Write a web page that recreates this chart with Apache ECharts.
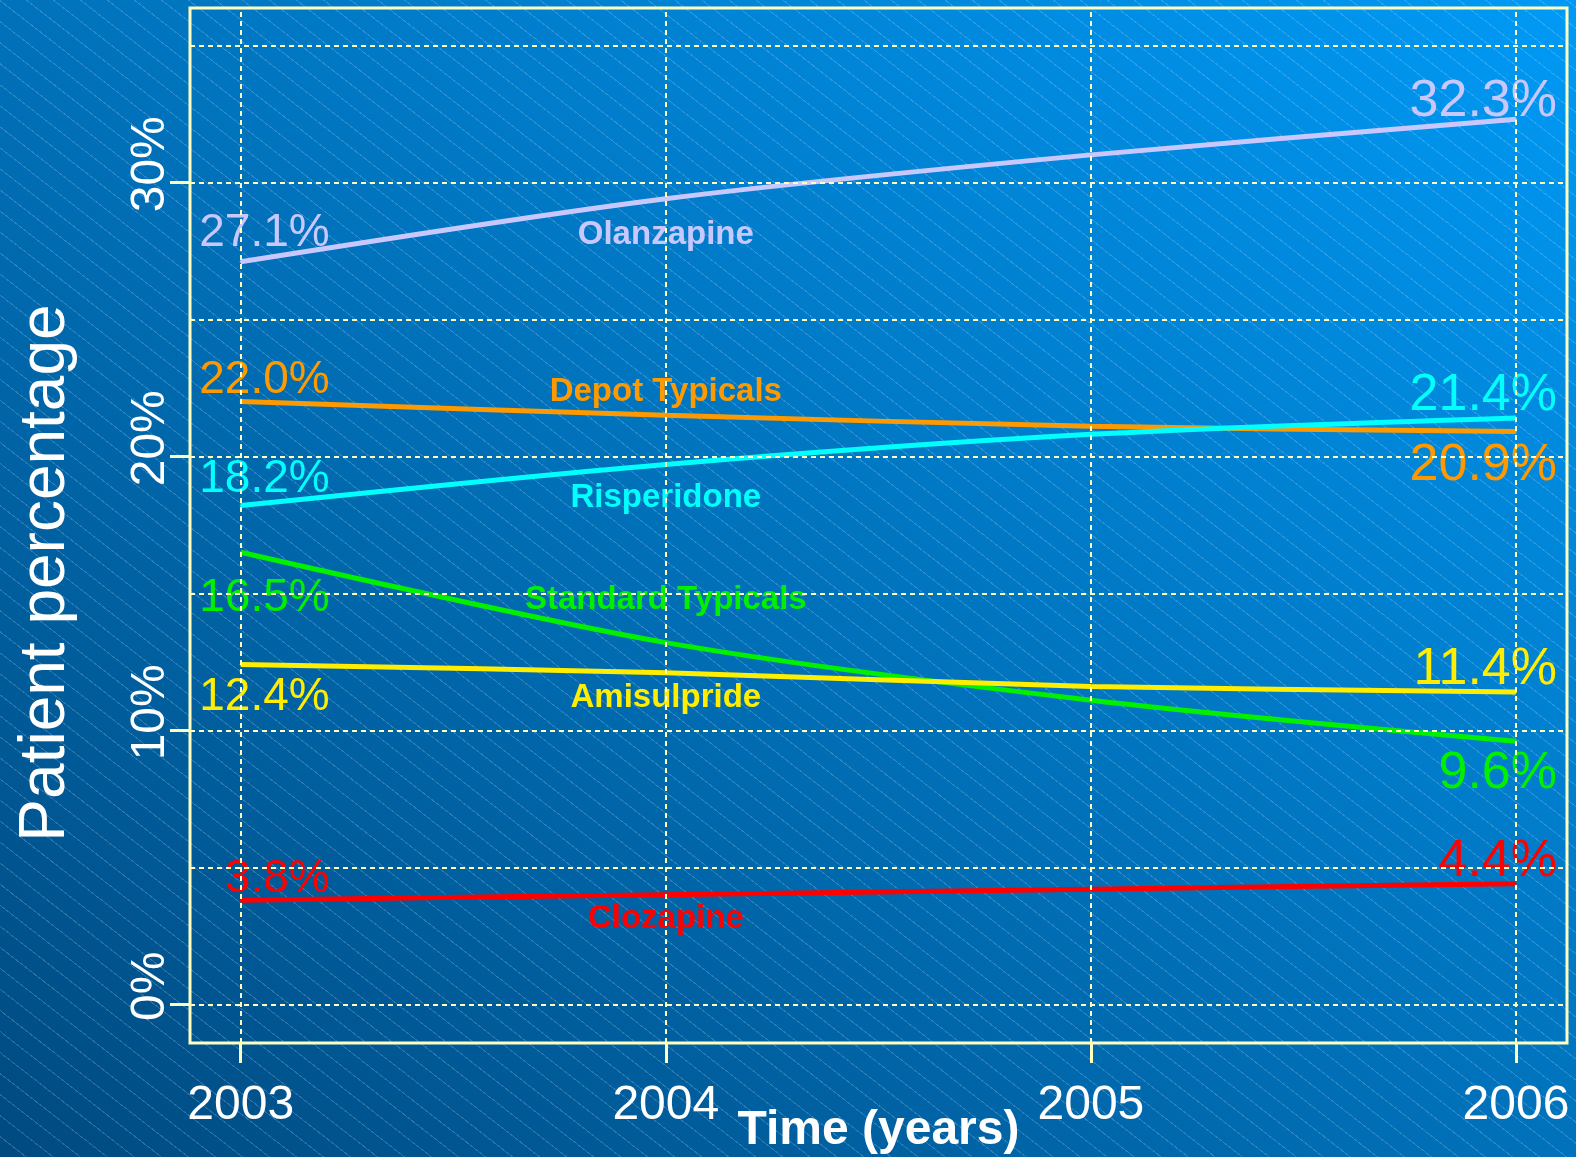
<!DOCTYPE html>
<html>
<head>
<meta charset="utf-8">
<title>Patient percentage by antipsychotic, 2003–2006</title>
<script src="https://cdn.jsdelivr.net/npm/echarts@6/dist/echarts.min.js"></script>
<style>
  html, body { margin: 0; padding: 0; }
  #chart {
    width: 1576px;
    height: 1157px;
    background:
      repeating-linear-gradient(37.9deg,
        rgba(255,255,255,0) 0px, rgba(255,255,255,0) 15.6px,
        rgba(215,235,255,0.2) 15.6px, rgba(215,235,255,0.2) 16.6px),
      linear-gradient(to top right, #004a80, #009af6);
  }
</style>
</head>
<body>
<div id="chart"></div>
<script>
// Years on the horizontal axis
const years = [2003, 2004, 2005, 2006];

// Share of patients (%) per drug and year
const olanzapine       = [27.1, 29.4, 31.0, 32.3];
const depotTypicals    = [22.0, 21.5, 21.1, 20.9];
const risperidone      = [18.2, 19.7, 20.8, 21.4];
const standardTypicals = [16.5, 13.2, 11.1, 9.6];
const amisulpride      = [12.4, 12.1, 11.6, 11.4];
const clozapine        = [3.8, 4.0, 4.2, 4.4];

// Axis ticks and reference lines
const yTicks = [0, 10, 20, 30];
const yGridLines = [0, 5, 10, 15, 20, 25, 30, 35];

// Line colour and vertical label offsets (px): first value, name at 2004, last value
const drugStyles = [
  { name: 'Olanzapine',        values: olanzapine,       color: '#c8c8ff', start: -28, mid: 36,  end: -18 },
  { name: 'Depot Typicals',    values: depotTypicals,    color: '#ff9900', start: -21, mid: -23, end: 34 },
  { name: 'Risperidone',       values: risperidone,      color: '#00ffff', start: -26, mid: 33,  end: -22 },
  { name: 'Standard Typicals', values: standardTypicals, color: '#00f000', start: 46,  mid: -43, end: 32 },
  { name: 'Amisulpride',       values: amisulpride,      color: '#ffee00', start: 33,  mid: 25,  end: -22 },
  { name: 'Clozapine',         values: clozapine,        color: '#ff0000', start: -21, mid: 24,  end: -22 }
];

const FONT = 'Liberation Sans, Arial, sans-serif';
const CREAM = '#ffffc0';

function pct(v) { return v.toFixed(1) + '%'; }

const drugSeries = drugStyles.map(d => ({
  name: d.name,
  type: 'line',
  z: 3,
  smooth: 0.3,
  symbol: 'circle',
  symbolSize: 2,
  showSymbol: true,
  itemStyle: { color: d.color },
  lineStyle: { color: d.color, width: 5 },
  data: d.values.map((v, i) => {
    const item = { value: [years[i], v] };
    if (i === 0) {
      item.label = {
        show: true, position: 'inside', formatter: pct(v),
        color: d.color, fontFamily: FONT, fontSize: 46,
        align: 'right', verticalAlign: 'middle', offset: [89, d.start]
      };
    } else if (i === 1) {
      item.label = {
        show: true, position: 'inside', formatter: d.name,
        color: d.color, fontFamily: FONT, fontSize: 33, fontWeight: 'bold',
        align: 'center', verticalAlign: 'middle', offset: [0, d.mid]
      };
    } else if (i === years.length - 1) {
      item.label = {
        show: true, position: 'inside', formatter: pct(v),
        color: d.color, fontFamily: FONT, fontSize: 52,
        align: 'right', verticalAlign: 'middle', offset: [41, d.end]
      };
    }
    return item;
  })
}));

// Dotted reference grid drawn under the drug lines
const gridSeries = {
  name: 'grid',
  type: 'line',
  z: 1,
  data: [],
  markLine: {
    silent: true,
    symbol: 'none',
    label: { show: false },
    lineStyle: { color: CREAM, width: 2, type: [5, 4] },
    data: years.map(y => ({ xAxis: y })).concat(yGridLines.map(v => ({ yAxis: v })))
  }
};

const chart = echarts.init(document.getElementById('chart'));
chart.setOption({
  animation: false,
  backgroundColor: 'transparent',
  grid: {
    left: 190, top: 8, width: 1377, height: 1035,
    outerBoundsMode: 'none', containLabel: false,
    show: true, borderColor: CREAM, borderWidth: 3, backgroundColor: 'transparent'
  },
  xAxis: {
    type: 'value',
    min: 2002.8807,
    max: 2006.12,
    name: 'Time (years)',
    nameLocation: 'middle',
    nameGap: 64,
    nameMoveOverlap: false,
    nameTextStyle: { color: '#ffffff', fontFamily: FONT, fontSize: 48, fontWeight: 'bold' },
    axisLine: { show: false, onZero: false },
    axisTick: { show: true, length: 20, customValues: years, lineStyle: { color: CREAM, width: 3 } },
    axisLabel: {
      show: true, customValues: years, margin: 39,
      color: '#ffffff', fontFamily: FONT, fontSize: 48,
      formatter: v => String(v)
    },
    splitLine: { show: false }
  },
  yAxis: {
    type: 'value',
    min: -1.412,
    max: 36.36,
    name: 'Patient percentage',
    nameLocation: 'middle',
    nameRotate: 90,
    nameGap: 112,
    nameMoveOverlap: false,
    nameTextStyle: { color: '#ffffff', fontFamily: FONT, fontSize: 64, padding: [0, 95, 0, 0] },
    axisLine: { show: false, onZero: false },
    axisTick: { show: true, length: 20, customValues: yTicks, lineStyle: { color: CREAM, width: 3 } },
    axisLabel: {
      show: true, customValues: yTicks, rotate: 90, margin: 15,
      color: '#ffffff', fontFamily: FONT, fontSize: 48,
      padding: [0, 0, 0, 36],
      formatter: v => v + '%'
    },
    splitLine: { show: false }
  },
  series: [gridSeries].concat(drugSeries)
});
</script>
</body>
</html>
